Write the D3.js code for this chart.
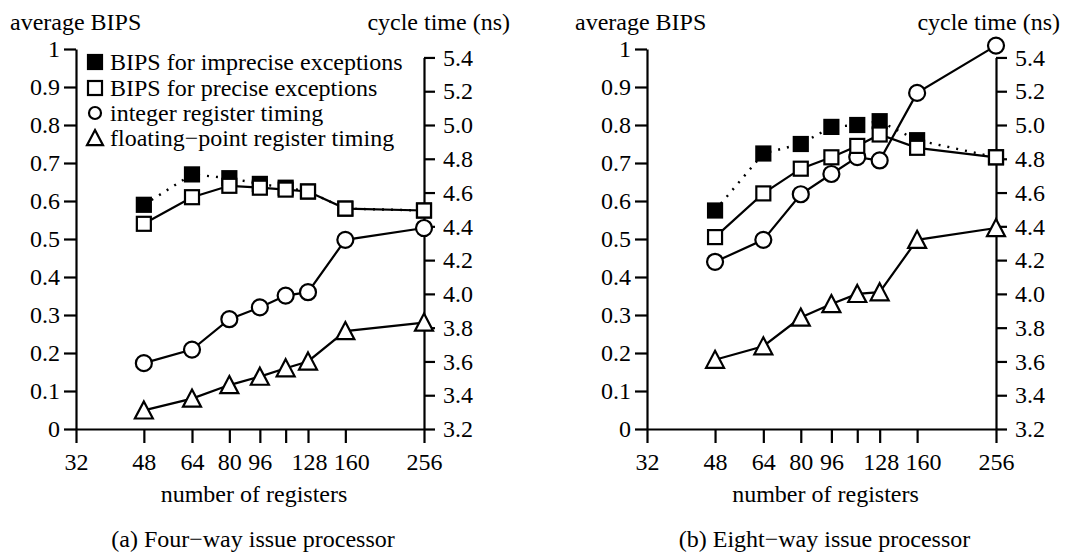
<!DOCTYPE html>
<html>
<head>
<meta charset="utf-8">
<script src="https://cdn.jsdelivr.net/npm/d3@7"></script>
<style>
  body { margin: 0; background: #fff; }
  svg { display: block; }
</style>
</head>
<body>
<svg width="1079" height="552"></svg>
<script>
// register counts along the x axis
const regs = [48, 64, 80, 96, 112, 128, 160, 256];
const xTicks = [32, 48, 64, 80, 96, 112, 128, 160, 256];
const xTickLabels = ["32", "48", "64", "80", "96", "", "128", "160", "256"];
const bipsTicks = [0, 0.1, 0.2, 0.3, 0.4, 0.5, 0.6, 0.7, 0.8, 0.9, 1];
const cycleTicks = [3.2, 3.4, 3.6, 3.8, 4.0, 4.2, 4.4, 4.6, 4.8, 5.0, 5.2, 5.4];

// (a) four-way issue
const fourImprecise = [0.59, 0.67, 0.66, 0.645, 0.635, 0.625, 0.58, 0.575];
const fourPrecise   = [0.54, 0.61, 0.64, 0.635, 0.63, 0.625, 0.58, 0.575];
const fourIntTime   = [3.59, 3.67, 3.85, 3.92, 3.99, 4.01, 4.32, 4.39];
const fourFpTime    = [3.31, 3.38, 3.46, 3.51, 3.56, 3.60, 3.78, 3.83];

// (b) eight-way issue
const eightImprecise = [0.575, 0.725, 0.75, 0.795, 0.80, 0.81, 0.76, 0.715];
const eightPrecise   = [0.505, 0.62, 0.685, 0.715, 0.745, 0.775, 0.74, 0.715];
const eightIntTime   = [4.19, 4.32, 4.59, 4.71, 4.81, 4.79, 5.19, 5.47];
const eightFpTime    = [3.61, 3.69, 3.86, 3.94, 4.00, 4.01, 4.32, 4.39];

const legendLabels = [
  "BIPS for imprecise exceptions",
  "BIPS for precise exceptions",
  "integer register timing",
  "floating\u2212point register timing"
];

const svg = d3.select("svg");
const FONT = 24;
const SERIF = "'Liberation Serif', 'Times New Roman', Times, serif";
const yTop = 49, yBot = 429;

const triPath = s => `M0,${-s}L${s},${s * 0.9}L${-s},${s * 0.9}Z`;

function drawMarker(sel, kind, size) {
  if (kind === "filled" || kind === "open") {
    sel.append("rect")
      .attr("x", -size / 2).attr("y", -size / 2)
      .attr("width", size).attr("height", size)
      .attr("fill", kind === "filled" ? "#000" : "#fff")
      .attr("stroke", "#000").attr("stroke-width", 2.2);
  } else if (kind === "circle") {
    sel.append("circle").attr("r", size / 2)
      .attr("fill", "#fff").attr("stroke", "#000").attr("stroke-width", 2.2);
  } else {
    sel.append("path").attr("d", triPath(size / 2))
      .attr("fill", "#fff").attr("stroke", "#000").attr("stroke-width", 2.2)
      .attr("stroke-linejoin", "miter");
  }
}

function drawPanel(p) {
  const { left, right } = p;
  const g = svg.append("g");
  const x = d3.scaleLog().base(2).domain([32, 256]).range([left, right]);
  const yL = d3.scaleLinear().domain([0, 1]).range([yBot, yTop]);
  const yR = d3.scaleLinear().domain([3.2, 5.45]).range([yBot, yTop]);
  const yRaxis = d3.scaleLinear().domain([3.2, 5.4]).range([yBot, yR(5.4)]);

  // axes
  const ax = g.append("g").attr("transform", `translate(0,${yBot})`)
    .call(d3.axisBottom(x).tickValues(xTicks).tickSize(14).tickSizeOuter(0)
      .tickFormat((d, i) => xTickLabels[i]));
  ax.selectAll("text").attr("dy", 0).attr("y", 41)
    .attr("dx", d => d === 160 ? 6 : (d === 128 ? 1 : 0));

  const al = g.append("g").attr("transform", `translate(${left},0)`)
    .call(d3.axisLeft(yL).tickValues(bipsTicks).tickSize(12).tickSizeOuter(0)
      .tickFormat(d3.format("~g")));
  al.selectAll("text").attr("x", -16).attr("dy", "0.32em");

  const ar = g.append("g").attr("transform", `translate(${right},0)`)
    .call(d3.axisRight(yRaxis).tickValues(cycleTicks).tickSize(11).tickSizeOuter(0)
      .tickFormat(d3.format(".1f")));
  ar.selectAll("text").attr("x", 19).attr("dy", "0.32em");

  [ax, al, ar].forEach(a => {
    a.selectAll("path, line").attr("stroke", "#000").attr("stroke-width", 2.2);
    a.selectAll("text").attr("fill", "#000");
  });

  // axis titles
  g.append("text").attr("x", p.titleL).attr("y", 30).text("average BIPS");
  g.append("text").attr("x", p.titleR).attr("y", 30)
    .attr("text-anchor", "end").text("cycle time (ns)");
  g.append("text").attr("x", (left + right) / 2 + 4).attr("y", 502)
    .attr("text-anchor", "middle").text("number of registers");
  g.append("text").attr("x", (left + right) / 2 + 3).attr("y", 547)
    .attr("text-anchor", "middle").text(p.caption);

  // lines and markers
  p.series.forEach(s => {
    const y = s.axis === "left" ? yL : yR;
    const line = d3.line().x((d, i) => x(regs[i])).y(d => y(d));
    g.append("path").datum(s.values)
      .attr("d", line).attr("fill", "none").attr("stroke", "#000")
      .attr("stroke-width", s.dotted ? 2.4 : 2.2)
      .attr("stroke-dasharray", s.dotted ? "2,7" : null);
  });
  p.series.forEach(s => {
    const y = s.axis === "left" ? yL : yR;
    g.selectAll(null).data(s.values).enter().append("g")
      .attr("transform", (d, i) => `translate(${x(regs[i])},${y(d)})`)
      .each(function () { drawMarker(d3.select(this), s.kind, s.size); });
  });

  if (p.legend) {
    const kinds = ["filled", "open", "circle", "tri"];
    const sizes = [14, 14, 12, 16];
    const rows = [62, 88, 113, 138];
    legendLabels.forEach((lab, i) => {
      const m = g.append("g").attr("transform", `translate(${left + 19},${rows[i]})`);
      drawMarker(m, kinds[i], sizes[i]);
      g.append("text").attr("x", left + 34).attr("y", rows[i]).attr("dy", "0.33em").text(lab);
    });
  }
}

drawPanel({
  left: 76, right: 424, titleL: 10, titleR: 510, legend: true,
  caption: "(a) Four\u2212way issue processor",
  series: [
    { values: fourIntTime, axis: "right", kind: "circle", size: 16 },
    { values: fourFpTime, axis: "right", kind: "tri", size: 18 },
    { values: fourImprecise, axis: "left", kind: "filled", size: 14, dotted: true },
    { values: fourPrecise, axis: "left", kind: "open", size: 14 }
  ]
});

drawPanel({
  left: 647, right: 996, titleL: 575, titleR: 1060, legend: false,
  caption: "(b) Eight\u2212way issue processor",
  series: [
    { values: eightIntTime, axis: "right", kind: "circle", size: 16 },
    { values: eightFpTime, axis: "right", kind: "tri", size: 18 },
    { values: eightImprecise, axis: "left", kind: "filled", size: 14, dotted: true },
    { values: eightPrecise, axis: "left", kind: "open", size: 14 }
  ]
});

// use the serif face on every label
svg.selectAll("text")
  .style("font-family", SERIF)
  .style("font-size", FONT + "px");
</script>
</body>
</html>
